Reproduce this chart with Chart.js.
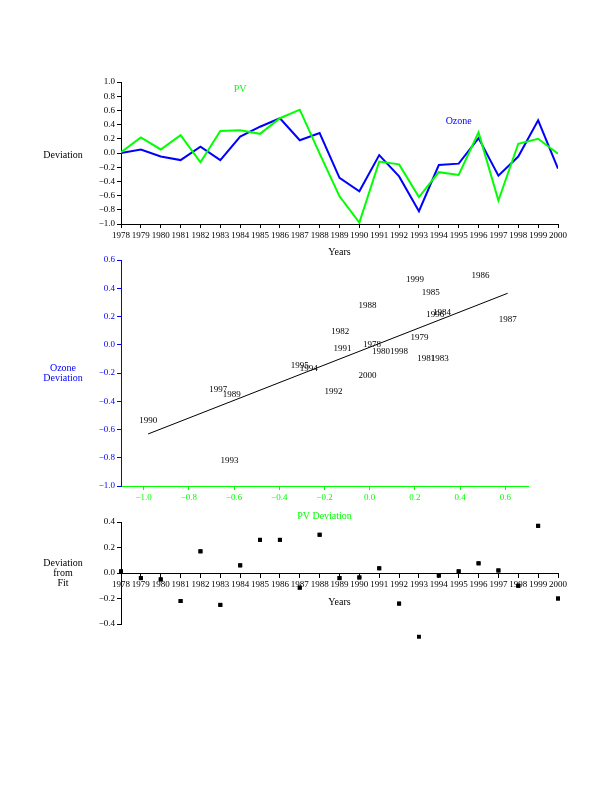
<!DOCTYPE html>
<html>
<head>
<meta charset="utf-8">
<script src="https://cdn.jsdelivr.net/npm/chart.js@4.4.0/dist/chart.umd.min.js"></script>
<style>
  body { margin: 0; background: #fff; }
  canvas { position: absolute; left: 0; }
</style>
</head>
<body>
<canvas id="lineChart" width="612" height="262" style="top:0px"></canvas>
<canvas id="scatterChart" width="612" height="275" style="top:250px"></canvas>
<canvas id="fitChart" width="612" height="138" style="top:512px"></canvas>
<script>
// values
const years = [1978, 1979, 1980, 1981, 1982, 1983, 1984, 1985, 1986, 1987, 1988,
  1989, 1990, 1991, 1992, 1993, 1994, 1995, 1996, 1997, 1998, 1999, 2000];
const pvDev = [0.01, 0.22, 0.05, 0.25, -0.13, 0.31, 0.32, 0.27, 0.49, 0.61, -0.01,
  -0.61, -0.98, -0.12, -0.16, -0.62, -0.27, -0.31, 0.29, -0.67, 0.13, 0.20, -0.01];
const ozoneDev = [0.00, 0.05, -0.05, -0.10, 0.09, -0.10, 0.23, 0.37, 0.49, 0.18, 0.28,
  -0.35, -0.54, -0.03, -0.33, -0.82, -0.17, -0.15, 0.21, -0.32, -0.05, 0.46, -0.22];
const fitDev = [0.013, -0.04, -0.05, -0.22, 0.17, -0.25, 0.06, 0.26, 0.26, -0.115, 0.30,
  -0.04, -0.035, 0.037, -0.24, -0.50, -0.02, 0.013, 0.076, 0.02, -0.10, 0.37, -0.20];

const devTicks = [-1.0, -0.8, -0.6, -0.4, -0.2, 0.0, 0.2, 0.4, 0.6, 0.8, 1.0];
const ozoneTicks = [-1.0, -0.8, -0.6, -0.4, -0.2, 0.0, 0.2, 0.4, 0.6];
const pvTicks = [-1.0, -0.8, -0.6, -0.4, -0.2, 0.0, 0.2, 0.4, 0.6];
const fitTicks = [-0.4, -0.2, 0.0, 0.2, 0.4];

const GREEN = '#00ff00';
const BLUE = '#0000ff';
const FONT = 'Liberation Serif';

function fmt(v) {
  return (v < -1e-9 ? '\u2212' : '') + Math.abs(v).toFixed(1);
}

function axis(color, tickList, size, horizontal, extra) {
  return Object.assign({
    type: 'linear',
    afterBuildTicks: s => { s.ticks = tickList.map(v => ({ value: v })); },
    afterFit: s => { if (horizontal) s.height = size; else s.width = size; },
    grid: { drawOnChartArea: false, color: color, tickLength: 4, lineWidth: 1 },
    border: { color: color, width: 1 },
    ticks: {
      color: color, padding: 2, autoSkip: false, maxRotation: 0, minRotation: 0,
      font: { family: FONT, size: 9 },
      callback: v => horizontal && tickList === years ? String(v) : fmt(v)
    }
  }, extra || {});
}

// small text helper plugin
const notes = {
  id: 'notes',
  afterDraw(chart, args, opts) {
    const ctx = chart.ctx;
    ctx.save();
    ctx.textAlign = 'center';
    ctx.textBaseline = 'middle';
    (opts.items || []).forEach(it => {
      const p = it.at(chart);
      ctx.fillStyle = it.color || '#000';
      ctx.font = (it.size || 10) + 'px "' + FONT + '"';
      it.text.split('\n').forEach((line, k, all) => {
        ctx.fillText(line, p.x, p.y + (k - (all.length - 1) / 2) * 10);
      });
    });
    ctx.restore();
  }
};

const yearLabels = {
  id: 'yearLabels',
  afterDatasetsDraw(chart) {
    const meta = chart.getDatasetMeta(0);
    const ctx = chart.ctx;
    ctx.save();
    ctx.fillStyle = '#000';
    ctx.font = '9px "' + FONT + '"';
    ctx.textAlign = 'center';
    ctx.textBaseline = 'middle';
    meta.data.forEach((pt, i) => ctx.fillText(String(years[i]), pt.x, pt.y));
    ctx.restore();
  }
};

// points that fall below the axis range are still drawn
const unclipped = {
  id: 'unclipped',
  afterDatasetsDraw(chart) {
    const ctx = chart.ctx;
    chart.getDatasetMeta(0).data.forEach(pt => pt.draw(ctx));
  }
};

// top: deviation time series
new Chart(document.getElementById('lineChart'), {
  type: 'line',
  data: {
    datasets: [
      { label: 'PV', data: years.map((y, i) => ({ x: y, y: pvDev[i] })),
        borderColor: GREEN, borderWidth: 2, pointRadius: 0, tension: 0 },
      { label: 'Ozone', data: years.map((y, i) => ({ x: y, y: ozoneDev[i] })),
        borderColor: BLUE, borderWidth: 2, pointRadius: 0, tension: 0 }
    ]
  },
  options: {
    responsive: false, animation: false,
    layout: { padding: { left: 81, right: 54, top: 82, bottom: 0 } },
    scales: {
      x: axis('#000', years, 38, true, { min: 1978, max: 2000 }),
      y: axis('#000', devTicks, 40, false, { min: -1, max: 1 })
    },
    plugins: {
      legend: { display: false }, tooltip: { enabled: false },
      notes: { items: [
        { text: 'PV', color: GREEN, at: c => ({ x: c.scales.x.getPixelForValue(1984), y: c.scales.y.getPixelForValue(0.89) }) },
        { text: 'Ozone', color: BLUE, at: c => ({ x: c.scales.x.getPixelForValue(1995), y: c.scales.y.getPixelForValue(0.44) }) },
        { text: 'Deviation', at: c => ({ x: c.chartArea.left - 58, y: c.scales.y.getPixelForValue(0) + 2 }) },
        { text: 'Years', at: c => ({ x: (c.chartArea.left + c.chartArea.right) / 2, y: c.chartArea.bottom + 28 }) }
      ] }
    }
  },
  plugins: [notes]
});

// middle: ozone vs PV with least squares line
const n = pvDev.length;
const mx = pvDev.reduce((a, b) => a + b, 0) / n;
const my = ozoneDev.reduce((a, b) => a + b, 0) / n;
let sxy = 0, sxx = 0;
pvDev.forEach((x, i) => { sxy += (x - mx) * (ozoneDev[i] - my); sxx += (x - mx) * (x - mx); });
const slope = sxy / sxx;
const x0 = Math.min(...pvDev), x1 = Math.max(...pvDev);

new Chart(document.getElementById('scatterChart'), {
  type: 'scatter',
  data: {
    datasets: [
      { data: pvDev.map((x, i) => ({ x: x, y: ozoneDev[i] })), pointRadius: 0 },
      { type: 'line', data: [{ x: x0, y: my + slope * (x0 - mx) }, { x: x1, y: my + slope * (x1 - mx) }],
        borderColor: '#000', borderWidth: 1, pointRadius: 0 }
    ]
  },
  options: {
    responsive: false, animation: false,
    layout: { padding: { left: 81, right: 84, top: 10, bottom: 0 } },
    scales: {
      x: axis(GREEN, pvTicks, 39, true, { min: -1.1, max: 0.7 }),
      y: axis(BLUE, ozoneTicks, 40, false, { min: -1.0, max: 0.6 })
    },
    plugins: {
      legend: { display: false }, tooltip: { enabled: false },
      notes: { items: [
        { text: 'Ozone\nDeviation', color: BLUE, at: c => ({ x: c.chartArea.left - 58, y: c.scales.y.getPixelForValue(-0.2) }) },
        { text: 'PV Deviation', color: GREEN, at: c => ({ x: (c.chartArea.left + c.chartArea.right) / 2, y: c.chartArea.bottom + 30 }) }
      ] }
    }
  },
  plugins: [notes, yearLabels]
});

// bottom: deviation from fit
new Chart(document.getElementById('fitChart'), {
  type: 'scatter',
  data: {
    datasets: [
      { data: years.map((y, i) => ({ x: y, y: fitDev[i] })),
        pointStyle: 'rect', pointRadius: 2.8, backgroundColor: '#000', borderWidth: 0, clip: false }
    ]
  },
  options: {
    responsive: false, animation: false,
    layout: { padding: { left: 81, right: 54, top: 10, bottom: 26 } },
    scales: {
      x: axis('#000', years, 30, true, { min: 1978, max: 2000, position: { y: 0 } }),
      y: axis('#000', fitTicks, 40, false, { min: -0.4, max: 0.4 })
    },
    plugins: {
      legend: { display: false }, tooltip: { enabled: false },
      notes: { items: [
        { text: 'Deviation\nfrom\nFit', at: c => ({ x: c.chartArea.left - 58, y: c.scales.y.getPixelForValue(0) }) },
        { text: 'Years', at: c => ({ x: (c.chartArea.left + c.chartArea.right) / 2, y: c.scales.y.getPixelForValue(0) + 29 }) }
      ] }
    }
  },
  plugins: [notes, unclipped]
});
</script>
</body>
</html>
